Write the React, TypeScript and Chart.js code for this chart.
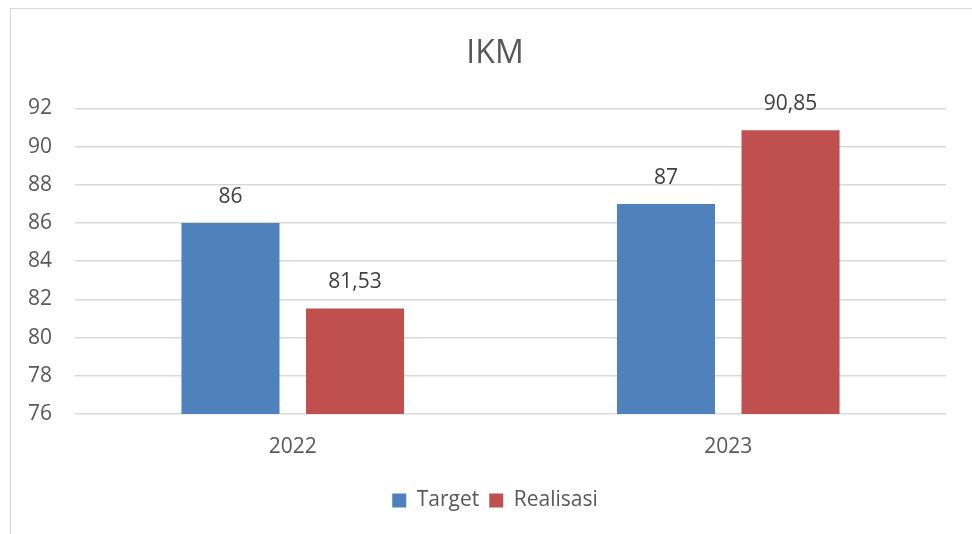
import React, { useEffect, useRef } from "react";
import { Chart, registerables } from "chart.js";

Chart.register(...registerables);

const TITLE = "IKM";
const categories = ["2022", "2023"];
const targetValues = [86, 87];
const realisasiValues = [81.53, 90.85];
const seriesNames = ["Target", "Realisasi"];
const yMin = 76;
const yMax = 92;
const yStep = 2;

const FONT = "'Open Sans', sans-serif";

const dataLabelPlugin = {
  id: "dataLabels",
  afterDatasetsDraw(chart: any) {
    const ctx = chart.ctx;
    ctx.save();
    ctx.font = `21px ${FONT}`;
    ctx.fillStyle = "#404040";
    ctx.textAlign = "center";
    ctx.textBaseline = "middle";
    chart.data.datasets.forEach((ds: any, i: number) => {
      const meta = chart.getDatasetMeta(i);
      meta.data.forEach((bar: any, j: number) => {
        const v = ds.data[j];
        const txt = String(v).replace(".", ",");
        ctx.fillText(txt, bar.x, bar.y - 26);
      });
    });
    ctx.restore();
  },
};

export default function App() {
  const ref = useRef<HTMLCanvasElement>(null);
  useEffect(() => {
    if (!ref.current) return;
    const chart = new Chart(ref.current, {
      type: "bar",
      data: {
        labels: categories,
        datasets: [
          {
            label: seriesNames[0],
            data: targetValues,
            backgroundColor: "#4F81BD",
            categoryPercentage: 0.572,
            barPercentage: 0.787,
          },
          {
            label: seriesNames[1],
            data: realisasiValues,
            backgroundColor: "#C0504D",
            categoryPercentage: 0.572,
            barPercentage: 0.787,
          },
        ],
      },
      options: {
        animation: false,
        responsive: false,
        maintainAspectRatio: false,
        layout: { padding: { left: 26, right: 8, top: 0, bottom: 13 } },
        plugins: {
          title: {
            display: true,
            text: TITLE,
            color: "#595959",
            font: { family: FONT, size: 32, weight: "normal" },
            padding: { top: 35, bottom: 35 },
          },
          legend: {
            position: "bottom",
            labels: {
              color: "#595959",
              font: { family: FONT, size: 21 },
              boxWidth: 14,
              boxHeight: 14,
              padding: 10,
            },
          },
          tooltip: { enabled: false },
        },
        scales: {
          x: {
            grid: { display: false, drawTicks: false },
            border: { display: false },
            ticks: {
              color: "#595959",
              font: { family: FONT, size: 21 },
              padding: 20,
            },
            afterFit: (s: any) => {
              s.height = 66;
            },
          },
          y: {
            min: yMin,
            max: yMax,
            ticks: {
              stepSize: yStep,
              color: "#595959",
              font: { family: FONT, size: 21 },
              padding: 23,
            },
            grid: { color: "#d9d9d9", lineWidth: 1.5, drawTicks: false },
            border: { display: false },
            afterFit: (s: any) => {
              s.width = 49;
            },
          },
          yRightSpace: {
            type: "linear",
            position: "right",
            display: true,
            ticks: { display: false },
            grid: { display: false, drawTicks: false },
            border: { display: false },
            afterFit: (s: any) => {
              s.width = 18;
            },
          },
        },
      },
      plugins: [dataLabelPlugin],
    });
    return () => chart.destroy();
  }, []);

  return (
    <div
      style={{
        position: "fixed",
        left: 0,
        top: 0,
        width: 972,
        height: 534,
        overflow: "hidden",
        background: "#fff",
      }}
    >
      <div
        style={{
          position: "absolute",
          left: 10,
          top: 8,
          width: 1000,
          height: 600,
          border: "1.5px solid #d9d9d9",
          boxSizing: "border-box",
        }}
      />
      <canvas
        ref={ref}
        width={972}
        height={534}
        style={{ position: "absolute", left: 0, top: 0 }}
      />
    </div>
  );
}
